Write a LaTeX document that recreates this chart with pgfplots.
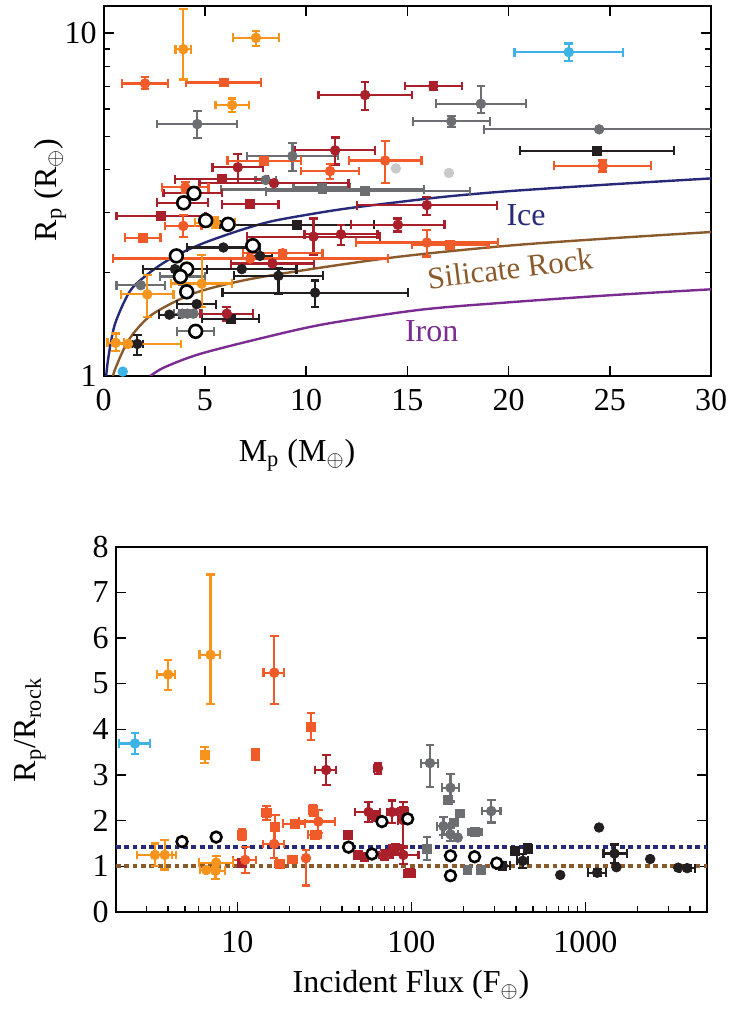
\documentclass[border=0pt]{standalone}
\usepackage{fontspec}
\setmainfont{Liberation Serif}
\usepackage{pgfplots}
\pgfplotsset{compat=1.18}
\definecolor{cOr}{HTML}{F7941D}
\definecolor{cRo}{HTML}{F15A29}
\definecolor{cDr}{HTML}{A91F2A}
\definecolor{cGr}{HTML}{6D6E71}
\definecolor{cBk}{HTML}{231F20}
\definecolor{cLg}{HTML}{C8C9CA}
\definecolor{cBl}{HTML}{3EB4E6}
\definecolor{cIce}{HTML}{262A78}
\definecolor{cRock}{HTML}{8B5A2B}
\definecolor{cIron}{HTML}{7B2C91}
\pgfplotsset{
 grp/.style 2 args={color=#1, only marks, mark=#2, mark size=2.4pt,
   mark options={solid, fill=#1, draw=#1},
   error bars/x dir=both, error bars/y dir=both, error bars/x explicit, error bars/y explicit,
   error bars/error mark=|,
   error bars/error bar style={line width=1.1pt, #1},
   error bars/error mark options={line width=1.1pt, mark size=2.2pt, #1}},
 opn/.style={only marks, mark=*, mark size=#1,
   mark options={fill=white, draw=black, line width=1.3pt}},
 myax/.style={anchor=south west, scale only axis,
   tick align=inside, major tick length=5pt, minor tick length=3pt,
   tick style={line width=0.7pt, black},
   axis line style={line width=0.9pt, black},
   ticklabel style={font=\fontsize{16}{16}\selectfont},
   /pgf/number format/assume math mode=true},
}
\begin{document}
\begin{tikzpicture}
\useasboundingbox (0,0) rectangle (364.5pt,505pt);
% ================= TOP =================
\begin{axis}[myax, at={(51.85pt,317pt)}, width=303.7pt, height=185pt,
  xmin=0, xmax=30, ymode=log, ymin=1, ymax=12,
  xtick={0,5,...,30}, ytick={1,10}, yticklabels={1,10}, minor ytick={2,3,4,5,6,7,8,9},
  xticklabel style={yshift=-3pt}]
% model curves
\addplot[cIce, line width=1.2pt, smooth] coordinates {(0.12,1)(0.2,1.1)(0.35,1.25)(0.56,1.42)(1,1.64)(1.46,1.82)(2.5,2.05)(3.6,2.25)(5,2.45)(6.73,2.66)(8.22,2.82)(10,2.95)(12,3.08)(14.64,3.22)(17,3.34)(20,3.46)(25,3.62)(30,3.77)};
\addplot[cRock, line width=1.2pt, smooth] coordinates {(0.45,1)(0.6,1.06)(0.97,1.19)(1.46,1.33)(2.45,1.52)(4.43,1.74)(6.9,1.9)(10,2.04)(14.64,2.23)(20,2.4)(25,2.52)(30,2.63)};
\addplot[cIron, line width=1.2pt, smooth] coordinates {(2.3,1)(3,1.06)(4.76,1.16)(8.05,1.3)(11,1.42)(15.63,1.56)(20,1.64)(25,1.72)(30,1.79)};
% gray
\addplot[grp={cGr}{*}] table[x=x,y=y,x error plus=xp,x error minus=xm,y error plus=yp,y error minus=ym]{
x y xp xm yp ym
4.62 5.43 1.98 1.98 0.51 0.48
18.63 6.22 2.22 2.22 0.8 0.37
17.17 5.53 1.9 1.9 0.2 0.2
24.47 5.24 6 5.7 0 0
9.32 4.38 2.24 2.24 0.4 0.42
8.0 3.73 0.5 0.5 0 0
1.83 1.84 1.2 1.2 0 0
3.9 1.95 1.1 1.1 0.1 0.1
3.88 1.52 0.4 0.4 0 0
4.13 1.52 0.4 0.4 0 0
4.43 1.52 0.4 0.4 0 0
4.54 1.35 0.9 0.9 0.05 0.05
};
\addplot[grp={cGr}{square*}, mark size=2.2pt] table[x=x,y=y,x error plus=xp,x error minus=xm,y error plus=yp,y error minus=ym]{
x y xp xm yp ym
10.77 3.55 1.4 1.4 0 0
12.91 3.46 5.2 4.9 0 0
10.8 3.5 5 5 0 0
};
% light gray
\addplot[color=cLg, only marks, mark=*, mark size=2.4pt] table[x=x,y=y]{
x y
14.43 4.03
17.05 3.91
};
% black
\addplot[grp={cBk}{*}] table[x=x,y=y,x error plus=xp,x error minus=xm,y error plus=yp,y error minus=ym]{
x y xp xm yp ym
5.91 2.37 1.8 1.8 0 0
7.72 2.24 0.6 0.6 0 0
3.52 2.05 1.58 1.58 0 0
6.82 2.05 2.7 2.7 0 0
8.63 1.96 2.2 2.2 0.11 0.23
10.44 1.75 4.57 4.57 0.15 0.16
4.59 1.62 0.96 0.96 0 0
3.24 1.51 0.5 0.5 0 0
1.66 1.24 0.28 0.28 0.08 0.09
};
\addplot[grp={cBk}{square*}, mark size=2.2pt] table[x=x,y=y,x error plus=xp,x error minus=xm,y error plus=yp,y error minus=ym]{
x y xp xm yp ym
24.36 4.54 3.8 3.8 0 0
9.54 2.76 3.8 3.8 0 0
6.27 1.47 1.4 1.4 0 0
};
% dark red
\addplot[grp={cDr}{*}] table[x=x,y=y,x error plus=xp,x error minus=xm,y error plus=yp,y error minus=ym]{
x y xp xm yp ym
12.91 6.6 2.3 2.3 0.62 0.64
16.28 7.01 1.4 1.4 0.2 0.2
11.43 4.55 1.97 1.97 0.41 0.41
6.62 4.06 1.25 1.25 0.38 0.41
8.41 3.65 3.68 3.68 0 0
14.53 2.76 2.3 2.3 0.12 0.12
15.96 3.15 3.45 3.45 0.18 0.2
10.36 2.55 3.3 3.3 0.33 0.3
11.72 2.59 1.8 1.8 0.17 0.18
8.33 2.13 2.06 2.06 0 0
6.08 1.52 1.3 1.3 0.07 0.07
4.4 3.42 1.45 1.45 0.1 0.1
3.9 3.2 1.26 1.26 0.1 0.1
};
\addplot[grp={cDr}{square*}, mark size=2.2pt] table[x=x,y=y,x error plus=xp,x error minus=xm,y error plus=yp,y error minus=ym]{
x y xp xm yp ym
5.83 3.75 2.3 2.3 0 0
7.23 3.17 1.4 1.4 0 0
2.83 2.93 2.2 2.2 0 0
};
% red-orange
\addplot[grp={cRo}{*}] table[x=x,y=y,x error plus=xp,x error minus=xm,y error plus=yp,y error minus=ym]{
x y xp xm yp ym
2.04 7.13 1.13 1.13 0.3 0.27
4.03 3.55 1.15 1.15 0.12 0.12
13.9 4.25 1.8 1.8 0.6 0.6
11.18 3.96 1.42 1.42 0.2 0.2
3.93 2.74 0.9 0.9 0.21 0.19
8.84 2.28 1.97 1.97 0.05 0.05
7.23 2.2 6.83 6.79 0 0
15.96 2.45 3.5 3.5 0.21 0.22
24.65 4.1 2.4 2.4 0.15 0.15
};
\addplot[grp={cRo}{square*}, mark size=2.2pt] table[x=x,y=y,x error plus=xp,x error minus=xm,y error plus=yp,y error minus=ym]{
x y xp xm yp ym
5.93 7.18 1.85 1.85 0 0
7.92 4.24 1.81 1.81 0 0
1.94 2.53 0.87 0.87 0.05 0.05
17.11 2.41 1.9 1.9 0 0
};
% orange
\addplot[grp={cOr}{*}] table[x=x,y=y,x error plus=xp,x error minus=xm,y error plus=yp,y error minus=ym]{
x y xp xm yp ym
3.93 8.98 0.38 0.38 2.8 1.65
7.52 9.69 1.12 1.12 0.47 0.51
6.34 6.17 0.82 0.82 0.28 0.29
4.84 1.86 1.5 1.5 0.39 0.27
2.15 1.73 1.3 1.3 0.24 0.24
0.59 1.25 0.4 0.4 0.08 0.07
1.2 1.24 2.6 0.6 0 0
5.5 2.8 1.0 1.0 0.1 0.1
};
% blue
\addplot[grp={cBl}{*}] table[x=x,y=y,x error plus=xp,x error minus=xm,y error plus=yp,y error minus=ym]{
x y xp xm yp ym
22.97 8.8 2.68 2.68 0.53 0.5
};
\addplot[color=cBl, only marks, mark=*, mark size=2.4pt] coordinates {(0.94,1.03)};
% open circles
\addplot[opn=3.2pt] table[x=x,y=y]{
x y
3.59 2.24
4.1 2.05
3.79 1.95
4.1 1.76
4.54 1.35
3.95 3.2
4.46 3.41
5.04 2.84
6.14 2.77
7.36 2.4
};
\node[cIce, font=\fontsize{16}{16}\selectfont] at (axis cs:20.86,2.95) {Ice};
\node[cRock, rotate=7, font=\fontsize{15.5}{16}\selectfont] at (axis cs:20.07,2.06) {Silicate Rock};
\node[cIron, font=\fontsize{16}{16}\selectfont] at (axis cs:16.2,1.35) {Iron};
\end{axis}
\node[rotate=90, font=\fontsize{16}{16}\selectfont] at (25pt,410pt) {R\textsubscript{p} (R\textsubscript{$\oplus$})};
\node[font=\fontsize{16}{16}\selectfont] at (148.5pt,277.5pt) {M\textsubscript{p} (M\textsubscript{$\oplus$})};
% ================= BOTTOM =================
\begin{axis}[myax, at={(57.85pt,49pt)}, width=295.6pt, height=182.7pt,
  xmode=log, xmin=2, xmax=5000, ymin=0, ymax=8,
  ytick={0,1,...,8}, xtick={10,100,1000}, xticklabels={10,100,1000},
  minor xtick={2,3,4,5,6,7,8,9,20,30,40,50,60,70,80,90,200,300,400,500,600,700,800,900,2000,3000,4000,5000},
  xtick pos=lower, xticklabel style={yshift=-6pt}]
\addplot[cIce, line width=2pt, dash pattern=on 2.4pt off 1.8pt] coordinates {(2,1.42)(5000,1.42)};
\addplot[cRock, line width=2pt, dash pattern=on 2.4pt off 1.8pt] coordinates {(2,1.0)(5000,1.0)};
% gray
\addplot[grp={cGr}{*}] table[x=x,y=y,x error plus=xp,x error minus=xm,y error plus=yp,y error minus=ym]{
x y xp xm yp ym
128 3.26 15 14 0.4 0.53
168 2.72 20 18 0.3 0.3
288 2.21 38 34 0.25 0.25
153 1.88 12 12 0.2 0.2
168 1.7 18 18 0.15 0.15
185 1.63 0 0 0 0
};
\addplot[grp={cGr}{square*}, mark size=2.2pt] table[x=x,y=y,x error plus=xp,x error minus=xm,y error plus=yp,y error minus=ym]{
x y xp xm yp ym
163 2.45 8 8 0.08 0.08
191 2.16 0 0 0 0
175 1.96 0 0 0 0
233 1.75 20 20 0.05 0.05
123 1.39 0 0 0.25 0.25
210 0.92 0 0 0 0
250 0.93 0 0 0 0
};
% black
\addplot[grp={cBk}{*}] table[x=x,y=y,x error plus=xp,x error minus=xm,y error plus=yp,y error minus=ym]{
x y xp xm yp ym
437 1.12 30 30 0.15 0.15
336 1.01 35 30 0.08 0.08
718 0.81 0 0 0 0
1200 1.85 0 0 0 0
1170 0.86 150 130 0.08 0.08
1472 1.28 260 200 0.2 0.2
1510 0.98 0 0 0 0
2360 1.16 0 0 0 0
3420 0.97 0 0 0 0
3850 0.96 400 350 0.06 0.06
};
\addplot[grp={cBk}{square*}, mark size=2.2pt] table[x=x,y=y,x error plus=xp,x error minus=xm,y error plus=yp,y error minus=ym]{
x y xp xm yp ym
394 1.34 0 0 0.07 0.07
467 1.39 0 0 0.1 0.1
};
% dark red
\addplot[grp={cDr}{*}] table[x=x,y=y,x error plus=xp,x error minus=xm,y error plus=yp,y error minus=ym]{
x y xp xm yp ym
32.4 3.11 4.6 4.5 0.33 0.33
64.3 3.15 3 3 0.12 0.12
56.8 2.19 9.6 9.2 0.22 0.22
62.3 2.1 4 4 0.1 0.1
77.4 2.19 5 5 0.25 0.25
90 2.01 6 6 0.4 0.6
90 2.2 6 6 0.1 0.1
80.9 1.39 6 6 0.1 0.1
70.1 1.25 5 5 0.1 0.1
90 1.25 20 12 0.2 0.2
};
\addplot[grp={cDr}{square*}, mark size=2.2pt] table[x=x,y=y,x error plus=xp,x error minus=xm,y error plus=yp,y error minus=ym]{
x y xp xm yp ym
43.2 1.69 0 0 0.05 0.05
49.4 1.25 0 0 0 0
53.8 1.21 0 0 0 0
98.5 0.85 7 7 0 0
10.6 1.08 0 0 0 0
};
% red-orange
\addplot[grp={cRo}{*}] table[x=x,y=y,x error plus=xp,x error minus=xm,y error plus=yp,y error minus=ym]{
x y xp xm yp ym
16.3 5.24 2.27 2.15 0.81 0.69
16.26 1.49 2.24 2.26 0.3 0.3
29.2 1.98 7.3 6.6 0.25 0.25
11.1 1.14 1.7 1.7 0.28 0.29
24.8 1.18 0 0 0.18 0.6
};
\addplot[grp={cRo}{square*}, mark size=2.2pt] table[x=x,y=y,x error plus=xp,x error minus=xm,y error plus=yp,y error minus=ym]{
x y xp xm yp ym
26.5 4.06 0 0 0.3 0.3
12.7 3.44 0 0 0.12 0.12
14.7 2.17 0.8 0.8 0.15 0.15
16.5 1.87 0.8 0.8 0.25 0.4
21.4 1.93 3 3 0.08 0.08
27.2 2.23 1 1 0.12 0.12
27.9 1.69 2.5 2.5 0.08 0.08
10.65 1.69 0.5 0.5 0.12 0.12
17.5 1.05 1 1 0.05 0.05
20.7 1.15 1.2 1.2 0.06 0.06
};
% orange
\addplot[grp={cOr}{*}] table[x=x,y=y,x error plus=xp,x error minus=xm,y error plus=yp,y error minus=ym]{
x y xp xm yp ym
4.0 5.2 0.38 0.53 0.32 0.34
7.02 5.63 0.95 0.95 1.76 1.08
3.36 1.25 0.86 0.72 0.25 0.25
3.83 1.25 0.6 0.6 0.32 0.32
7.56 1.08 1.84 1.56 0.15 0.15
7.49 0.9 1.0 1.0 0.18 0.18
6.63 0.92 0.5 0.5 0 0
4.81 1.54 0.3 0.3 0 0
7.56 1.64 0.3 0.3 0 0
};
\addplot[grp={cOr}{square*}, mark size=2.2pt] table[x=x,y=y,x error plus=xp,x error minus=xm,y error plus=yp,y error minus=ym]{
x y xp xm yp ym
6.49 3.44 0 0 0.18 0.18
};
% blue
\addplot[grp={cBl}{*}] table[x=x,y=y,x error plus=xp,x error minus=xm,y error plus=yp,y error minus=ym]{
x y xp xm yp ym
2.58 3.69 0.57 0.48 0.23 0.23
};
% open circles
\addplot[opn=2.7pt] table[x=x,y=y]{
x y
4.81 1.54
7.56 1.64
43.6 1.42
59.4 1.27
67.8 1.98
95.3 2.04
168 1.23
168 0.795
231 1.21
310 1.07
};
\end{axis}
\node[rotate=90, font=\fontsize{16}{16}\selectfont] at (15pt,140pt) {R\textsubscript{p}/R\textsubscript{rock}};
\node[font=\fontsize{16}{16}\selectfont] at (205.5pt,12.5pt) {Incident Flux (F\textsubscript{$\oplus$})};
\end{tikzpicture}
\end{document}
